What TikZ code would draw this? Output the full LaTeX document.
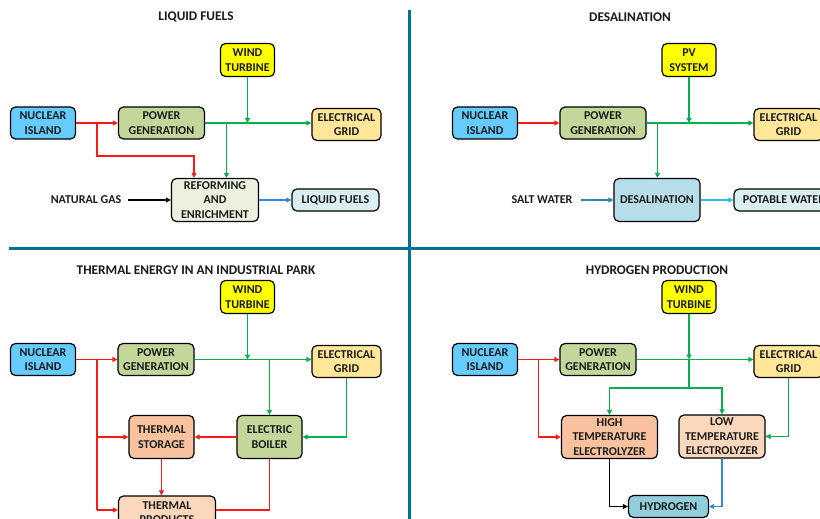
\documentclass[tikz,border=0pt]{standalone}
\usepackage{fontspec}
\setmainfont{Carlito}
\usetikzlibrary{arrows.meta}

\definecolor{cNuc}{HTML}{66CCFF}
\definecolor{cPow}{HTML}{C4D79B}
\definecolor{cGrid}{HTML}{FFE699}
\definecolor{cWind}{HTML}{FFFF00}
\definecolor{cRef}{HTML}{EBF1DE}
\definecolor{cPale}{HTML}{DAEEF3}
\definecolor{cDes}{HTML}{B7DEE8}
\definecolor{cOrg}{HTML}{F8C29E}
\definecolor{cPeach}{HTML}{FBD8BC}
\definecolor{cHyd}{HTML}{92CDDC}
\definecolor{cRed}{HTML}{FF1A1A}
\definecolor{cGreen}{HTML}{00B050}
\definecolor{cDiv}{HTML}{00709A}
\definecolor{cBlue}{HTML}{2E86D6}
\definecolor{cSalt}{HTML}{2F86A8}
\definecolor{cSky}{HTML}{33BBF0}
\definecolor{cInk}{HTML}{1A1A1A}

\tikzset{
  box/.style={draw=black, line width=1.2pt, rounded corners=5pt, align=center,
    inner sep=0pt, text=cInk, font=\bfseries\fontsize{12}{14.5}\selectfont},
  wh/.style 2 args={minimum width=#1pt, minimum height=#2pt},
  plain/.style={inner sep=0pt, text=cInk, font=\bfseries\fontsize{12}{14.5}\selectfont},
  title/.style={inner sep=0pt, text=cInk, font=\bfseries\fontsize{13.3}{16}\selectfont},
  tip/.style={-{Triangle[length=5pt,width=5pt]}},
  wire/.style={line width=1.2pt},
  rflow/.style={wire, cRed, tip},
  rline/.style={wire, cRed},
  gflow/.style={wire, cGreen, tip},
  gline/.style={wire, cGreen},
  divider/.style={cDiv, line width=3pt}
}

\begin{document}
\begin{tikzpicture}[x=1pt, y=-1pt]
\useasboundingbox (0,0) rectangle (820,519);
\fill[white] (0,0) rectangle (820,519);

% panel dividers
\draw[divider] (409,10) -- (409,519);
\draw[divider] (9,248) -- (820,248);

% ---------------- liquid fuels ----------------
\node[title] (t1) at (196,17) {LIQUID FUELS};
\node[box, fill=cWind, wh={54}{33}] (wind1) at (247.5,60) {WIND\\TURBINE};
\node[box, fill=cNuc, wh={65}{32}] (nuc1) at (43,123) {NUCLEAR\\ISLAND};
\node[box, fill=cPow, wh={86}{32}] (pow1) at (161.5,123) {POWER\\GENERATION};
\node[box, fill=cGrid, wh={69}{32}] (grid1) at (346.5,124.5) {ELECTRICAL\\GRID};
\node[box, fill=cRef, wh={87}{43}] (ref1) at (215,200) {REFORMING\\AND\\ENRICHMENT};
\node[box, fill=cPale, wh={87}{22}] (liq1) at (335.5,200) {LIQUID FUELS};
\node[plain] (gas1) at (86,200) {NATURAL GAS};

\coordinate (r1a) at (97,156);
\coordinate (r1b) at (194,156);
\coordinate (g1) at (226.5,123);
\draw[rflow] (nuc1.east) -- (pow1.west);
\draw[rflow] (nuc1.east -| r1a) -- (r1a) -- (r1b) -- (r1b |- ref1.north);
\draw[gflow] (pow1.east) -- (grid1.west |- pow1.east);
\draw[gflow] (wind1.south) -- (wind1.south |- pow1.east);
\draw[gflow] (g1) -- (g1 |- ref1.north);
\draw[wire, black, tip, shorten <=7pt] (gas1.east) -- (ref1.west);
\draw[wire, cBlue, tip] (ref1.east) -- (liq1.west);

% ---------------- desalination ----------------
\node[title] (t2) at (630,17) {DESALINATION};
\node[box, fill=cWind, wh={54}{33}] (pv2) at (689,60) {PV\\SYSTEM};
\node[box, fill=cNuc, wh={65}{32}] (nuc2) at (485,123) {NUCLEAR\\ISLAND};
\node[box, fill=cPow, wh={86}{32}] (pow2) at (603,123) {POWER\\GENERATION};
\node[box, fill=cGrid, wh={69}{32}] (grid2) at (788.5,124.5) {ELECTRICAL\\GRID};
\node[box, fill=cDes, wh={86}{43}] (des2) at (657,200) {DESALINATION};
\node[box, fill=cPale, wh={100}{22}] (pot2) at (784,200) {POTABLE WATER};
\node[plain] (salt2) at (542,200) {SALT WATER};

\coordinate (g2) at (657.5,123);
\draw[rflow] (nuc2.east) -- (pow2.west);
\draw[gflow] (pow2.east) -- (grid2.west |- pow2.east);
\draw[gflow] (pv2.south) -- (pv2.south |- pow2.east);
\draw[gflow] (g2) -- (g2 |- des2.north);
\draw[wire, cSalt, tip, shorten <=8pt] (salt2.east) -- (des2.west);
\draw[wire, cSky, tip] (des2.east) -- (pot2.west);

% ---------------- thermal energy ----------------
\node[title] (t3) at (196,270) {THERMAL ENERGY IN AN INDUSTRIAL PARK};
\node[box, fill=cWind, wh={54}{33}] (wind3) at (247.5,297) {WIND\\TURBINE};
\node[box, fill=cNuc, wh={65}{32}] (nuc3) at (43,359.5) {NUCLEAR\\ISLAND};
\node[box, fill=cPow, wh={76}{32}] (pow3) at (156,359.5) {POWER\\GENERATION};
\node[box, fill=cGrid, wh={69}{32}] (grid3) at (346.5,361.5) {ELECTRICAL\\GRID};
\node[box, fill=cPow, wh={65}{43}] (boil3) at (269.5,437) {ELECTRIC\\BOILER};
\node[box, fill=cOrg, wh={65}{43}] (stor3) at (161.5,437) {THERMAL\\STORAGE};
\node[box, fill=cPeach, wh={97}{33}] (prod3) at (167,512.5) {THERMAL\\PRODUCTS};

\coordinate (r3) at (97,510);
\draw[rflow] (nuc3.east) -- (pow3.west);
\draw[rline] (nuc3.east -| r3) -- (r3);
\draw[rflow] (r3 |- stor3.west) -- (stor3.west);
\draw[rflow] (r3) -- (r3 -| prod3.west);
\draw[rflow] (boil3.west) -- (stor3.east);
\draw[rflow] (stor3.south) -- (stor3.south |- prod3.north);
\draw[rline] (boil3.south) |- (prod3.east |- r3);
\draw[gflow] (pow3.east) -- (grid3.west |- pow3.east);
\draw[gflow] (wind3.south) -- (wind3.south |- pow3.east);
\draw[gflow] (boil3.north |- pow3.east) -- (boil3.north);
\draw[gflow] (grid3.south) |- (boil3.east);

% ---------------- hydrogen production ----------------
\node[title] (t4) at (657,270) {HYDROGEN PRODUCTION};
\node[box, fill=cWind, wh={54}{33}] (wind4) at (689,297) {WIND\\TURBINE};
\node[box, fill=cNuc, wh={65}{32}] (nuc4) at (485,359.5) {NUCLEAR\\ISLAND};
\node[box, fill=cPow, wh={76}{32}] (pow4) at (598,359.5) {POWER\\GENERATION};
\node[box, fill=cGrid, wh={69}{32}] (grid4) at (788.5,361.5) {ELECTRICAL\\GRID};
\node[box, fill=cOrg, wh={96}{43}] (ht4) at (609.5,437) {HIGH\\TEMPERATURE\\ELECTROLYZER};
\node[box, fill=cPeach, wh={86}{43}] (lt4) at (722,436.5) {LOW\\TEMPERATURE\\ELECTROLYZER};
\node[box, fill=cHyd, wh={80}{22}] (hyd4) at (668.5,506.5) {HYDROGEN};

\coordinate (r4) at (538.5,359.5);
\coordinate (g4) at (689,388);
\draw[rflow] (nuc4.east) -- (pow4.west);
\draw[rflow] (nuc4.east -| r4) |- (ht4.west);
\draw[gflow] (pow4.east) -- (grid4.west |- pow4.east);
\draw[gflow] (wind4.south) -- (wind4.south |- pow4.east);
\draw[gline] (wind4.south |- pow4.east) -- (g4);
\draw[gflow] (g4) -| (ht4.north);
\draw[gflow] (g4) -| (lt4.north);
\draw[gflow] (grid4.south) |- (lt4.east);
\draw[wire, black, tip] (ht4.south) |- (hyd4.west);
\draw[wire, cBlue, tip] (lt4.south) |- (hyd4.east);
\end{tikzpicture}
\end{document}
